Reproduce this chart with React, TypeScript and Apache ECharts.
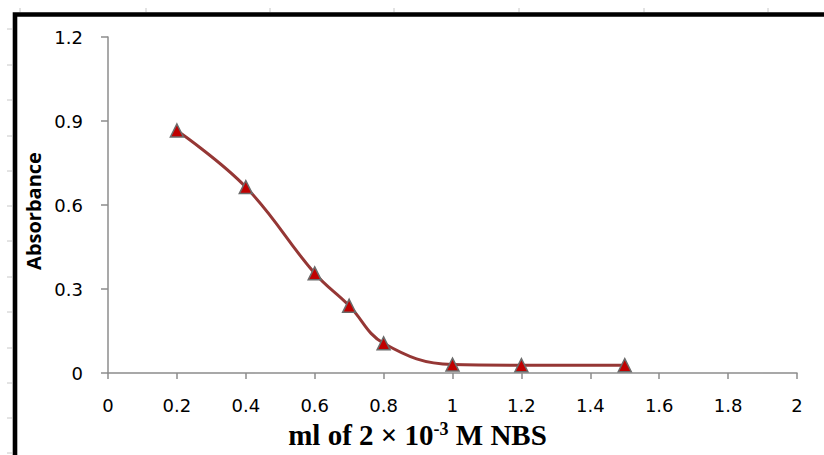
import React, { useEffect, useRef } from "react";
import * as echarts from "echarts";

const volumes = [0.2, 0.4, 0.6, 0.7, 0.8, 1.0, 1.2, 1.5];
const absorbance = [0.866, 0.664, 0.356, 0.24, 0.106, 0.03, 0.028, 0.028];
const xTicks = { min: 0, max: 2, interval: 0.2 };
const yTicks = { min: 0, max: 1.2, interval: 0.3 };
const leftRulerYs = [29, 65, 100, 136, 171, 206, 241, 277, 312, 348, 383, 418, 453];
const topRulerXs = [20, 146, 270, 394, 519, 644, 768];

export default function App() {
  const ref = useRef<HTMLDivElement>(null);
  useEffect(() => {
    if (!ref.current) return;
    const chart = echarts.init(ref.current, null, { renderer: "svg" });
    const axisColor = "#8c8c8c";
    const graphics: any[] = [];
    leftRulerYs.forEach((y) =>
      graphics.push({
        type: "line",
        shape: { x1: 7, y1: y, x2: 12, y2: y },
        style: { stroke: "#c8c8c8", lineWidth: 1 },
        silent: true,
      })
    );
    topRulerXs.forEach((x) =>
      graphics.push({
        type: "line",
        shape: { x1: x, y1: 8, x2: x, y2: 12 },
        style: { stroke: "#c8c8c8", lineWidth: 1 },
        silent: true,
      })
    );
    graphics.push({
      type: "rect",
      shape: { x: 15, y: 14.5, width: 900, height: 600 },
      style: { fill: "none", stroke: "#000", lineWidth: 4.6 },
      silent: true,
    });
    chart.setOption({
      animation: false,
      backgroundColor: "#fff",
      grid: {
        left: 108,
        right: 27,
        top: 37,
        bottom: 82,
        containLabel: false,
        outerBoundsMode: "none",
      },
      xAxis: {
        type: "value",
        min: xTicks.min,
        max: xTicks.max,
        interval: xTicks.interval,
        splitLine: { show: false },
        axisLine: { show: true, lineStyle: { color: axisColor, width: 1.5 } },
        axisTick: { show: true, length: 6, lineStyle: { color: axisColor, width: 1.5 } },
        axisLabel: {
          margin: 23,
          color: "#000",
          fontSize: 18,
          fontFamily: "DejaVu Sans",
        },
        name: "{n|ml of 2 × 10}{s|-3}{n| M NBS}",
        nameLocation: "middle",
        nameGap: 47,
        nameTextStyle: {
          padding: [0, 70, 0, 0],
          rich: {
            n: {
              fontFamily: "Liberation Serif",
              fontWeight: "bold",
              fontSize: 29,
              color: "#000",
              lineHeight: 30,
            },
            s: {
              fontFamily: "Liberation Serif",
              fontWeight: "bold",
              fontSize: 18,
              color: "#000",
              verticalAlign: "top",
              lineHeight: 30,
            },
          },
        },
      },
      yAxis: {
        type: "value",
        min: yTicks.min,
        max: yTicks.max,
        interval: yTicks.interval,
        splitLine: { show: false },
        axisLine: { show: true, lineStyle: { color: axisColor, width: 1.5 } },
        axisTick: { show: true, length: 7, lineStyle: { color: axisColor, width: 1.5 } },
        axisLabel: {
          margin: 25,
          color: "#000",
          fontSize: 18,
          fontFamily: "DejaVu Sans",
        },
        name: "Absorbance",
        nameLocation: "middle",
        nameGap: 60,
        nameTextStyle: {
          fontFamily: "Open Sans",
          fontWeight: "bold",
          fontSize: 20,
          color: "#000",
          padding: [0, 12, 0, 0],
        },
      },
      series: [
        {
          type: "line",
          data: volumes.map((v, i) => [v, absorbance[i]]),
          smooth: 0.4,
          lineStyle: { color: "#953735", width: 3 },
          symbol: "triangle",
          symbolSize: 13,
          itemStyle: { color: "#c00000", borderColor: "#6b6b6b", borderWidth: 1.5 },
          z: 3,
        },
      ],
      graphic: graphics,
    });
    return () => chart.dispose();
  }, []);
  return (
    <div
      ref={ref}
      style={{ position: "absolute", left: 0, top: 0, width: 824, height: 455 }}
    />
  );
}
